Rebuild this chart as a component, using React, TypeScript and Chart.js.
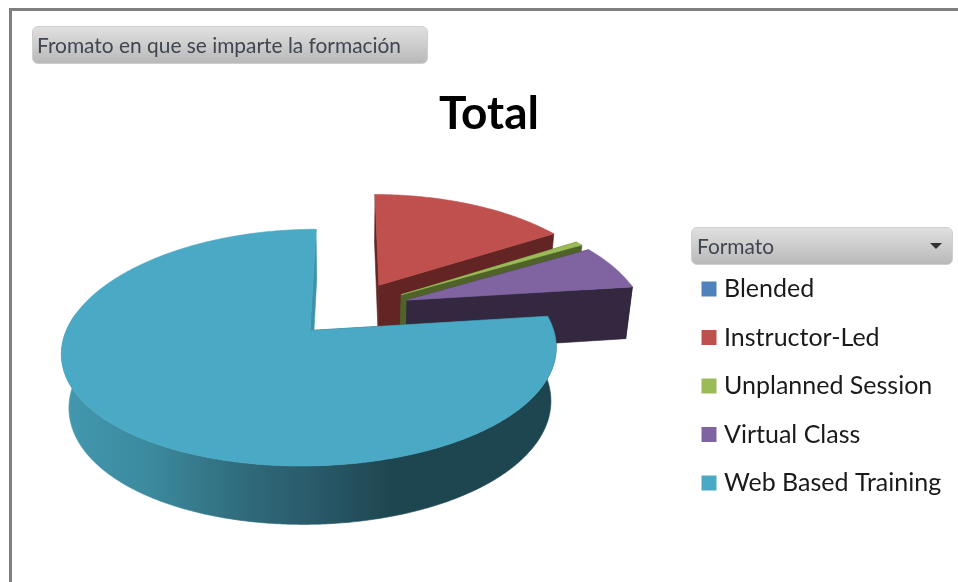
import React, { useEffect, useRef } from "react";
import { Chart, registerables } from "chart.js";

Chart.register(...registerables);

const categories = ["Blended", "Instructor-Led", "Unplanned Session", "Virtual Class", "Web Based Training"];
const seriesValues = [0, 16, 0.6, 6.4, 77];
const sliceColors = ["#4F81BD", "#C0504D", "#9BBB59", "#8064A2", "#4AA9C4"];
const faceColors = ["#2A4467", "#632523", "#4F6228", "#33283F", "#1E4650"];
const endFaceColors = ["#2A4467", "#632523", "#4F6228", "#33283F", "#3E93AB"];
const chartTitle = "Total";
const filterLabel = "Fromato en que se imparte la formación";
const legendLabel = "Formato";

const FONT = "Lato, Carlito, Calibri, sans-serif";
const CX = 351, CY = 309, R = 236, Q = 0.465, K = 0.145, KX = 0.17, DEPTH = 54, Z_W = 0.025;

function project(X: number, Y: number, z: number): [number, number] {
  const zw = (Z_W * z) / DEPTH;
  const w = 1 - (K * Y) / 243 + zw;
  const wx = 1 - (KX * Y) / 243 + zw;
  return [CX + X / wx, CY + (Q * Y + z) / w];
}

function wallGradient(ctx: CanvasRenderingContext2D, index: number, dark: string) {
  if (index !== 4) return dark;
  const g = ctx.createLinearGradient(68, 0, 392, 0);
  g.addColorStop(0, "#4297AE");
  g.addColorStop(0.25, "#3C8A9E");
  g.addColorStop(0.55, "#2F6A7A");
  g.addColorStop(0.75, "#295B6B");
  g.addColorStop(1, dark);
  return g;
}

const pie3d = {
  id: "pie3d",
  afterLayout(chart: any) {
    const leg = chart.legend;
    leg.left = 683;
    leg.right = 958;
    leg.top = 253;
    const t = chart.titleBlock;
    t.left = 20;
    t.right = 958;
  },
  beforeDatasetDraw(chart: any, args: any) {
    const ctx: CanvasRenderingContext2D = chart.ctx;
    const arcs = args.meta.data;
    ctx.save();
    arcs.forEach((arc: any, i: number) => {
      const { startAngle, endAngle, outerRadius } = arc.getProps(["startAngle", "endAngle", "outerRadius"], true);
      if (endAngle - startAngle < 1e-4) return;
      const scale = R / outerRadius;
      const mid = (startAngle + endAngle) / 2;
      const off = arc.options.offset;
      const ox = Math.cos(mid) * off;
      const oy = Math.sin(mid) * off;
      const color = arc.options.backgroundColor;
      const dark = faceColors[i];
      const pts: number[][] = [];
      const steps = Math.max(2, Math.ceil((endAngle - startAngle) / 0.01));
      for (let s = 0; s <= steps; s++) {
        const a = startAngle + ((endAngle - startAngle) * s) / steps;
        pts.push([ox + Math.cos(a) * outerRadius * scale, oy + Math.sin(a) * outerRadius * scale, Math.sin(a)]);
      }
      const poly = (list: [number, number][], fill: any) => {
        ctx.beginPath();
        list.forEach((p, n) => (n ? ctx.lineTo(p[0], p[1]) : ctx.moveTo(p[0], p[1])));
        ctx.closePath();
        ctx.fillStyle = fill;
        ctx.strokeStyle = fill;
        ctx.lineWidth = 0.6;
        ctx.fill();
        ctx.stroke();
      };
      const first = pts[0], last = pts[pts.length - 1];
      const face = (e: number[], fill: string) =>
        poly([project(ox, oy, 0), project(e[0], e[1], 0), project(e[0], e[1], DEPTH), project(ox, oy, DEPTH)], fill);
      face(first, dark);
      face(last, endFaceColors[i]);
      const front = pts.filter((p) => p[2] > -0.16);
      if (front.length > 1) {
        const wall: [number, number][] = [];
        front.forEach((p) => wall.push(project(p[0], p[1], 0)));
        front.slice().reverse().forEach((p) => wall.push(project(p[0], p[1], DEPTH)));
        poly(wall, wallGradient(ctx, i, dark));
      }
      const top: [number, number][] = [project(ox, oy, 0)];
      pts.forEach((p) => top.push(project(p[0], p[1], 0)));
      poly(top, color);
    });
    ctx.restore();
    return false;
  },
};

const buttonStyle: React.CSSProperties = {
  position: "absolute",
  boxSizing: "border-box",
  borderRadius: 6,
  border: "1px solid #cfcfcf",
  background: "linear-gradient(#e0e0e0, #b9b9b9)",
  fontFamily: FONT,
  fontSize: 20.9,
  color: "#3f4650",
  whiteSpace: "nowrap",
  overflow: "hidden",
};

export default function App() {
  const ref = useRef<HTMLCanvasElement | null>(null);
  useEffect(() => {
    document.body.style.margin = "0";
    document.body.style.overflow = "hidden";
    const baseLabels = (Chart as any).overrides.pie.plugins.legend.labels.generateLabels;
    const chart = new Chart(ref.current as HTMLCanvasElement, {
      type: "pie",
      data: {
        labels: categories,
        datasets: [
          {
            data: seriesValues,
            backgroundColor: sliceColors,
            borderWidth: 0,
            offset: 60,
          },
        ],
      },
      options: {
        responsive: false,
        animation: false,
        plugins: {
          title: {
            display: true,
            text: chartTitle,
            color: "#000000",
            font: { family: FONT, size: 46, weight: "bold" },
            padding: { top: 87, bottom: 10 },
          },
          legend: {
            position: "right",
            align: "start",
            labels: {
              color: "#1a1a1a",
              font: { family: FONT, size: 25 },
              boxWidth: 5,
              boxHeight: 5,
              padding: 23.5,
              generateLabels: (c: any) =>
                baseLabels(c).map((item: any) => ({ ...item, lineWidth: 10, strokeStyle: item.fillStyle })),
            },
          },
          tooltip: { enabled: false },
        },
      },
      plugins: [pie3d],
    } as any);
    return () => chart.destroy();
  }, []);
  return (
    <div style={{ position: "absolute", left: 0, top: 0, width: 958, height: 582, overflow: "hidden", background: "#fff" }}>
      <canvas ref={ref} width={958} height={582} style={{ position: "absolute", left: 0, top: 0 }} />
      <div style={{ position: "absolute", left: 9, top: 8, width: 949, height: 574, boxSizing: "border-box", borderLeft: "3px solid #7f7f7f", borderTop: "3px solid #7f7f7f" }} />
      <div style={{ ...buttonStyle, left: 32, top: 26, width: 396, height: 38, lineHeight: "36px", paddingLeft: 4 }}>{filterLabel}</div>
      <div style={{ ...buttonStyle, left: 691, top: 227, width: 262, height: 38, lineHeight: "36px", paddingLeft: 5 }}>
        {legendLabel}
        <span style={{ position: "absolute", right: 10, top: 15, width: 0, height: 0, borderLeft: "6px solid transparent", borderRight: "6px solid transparent", borderTop: "6px solid #333" }} />
      </div>
    </div>
  );
}
